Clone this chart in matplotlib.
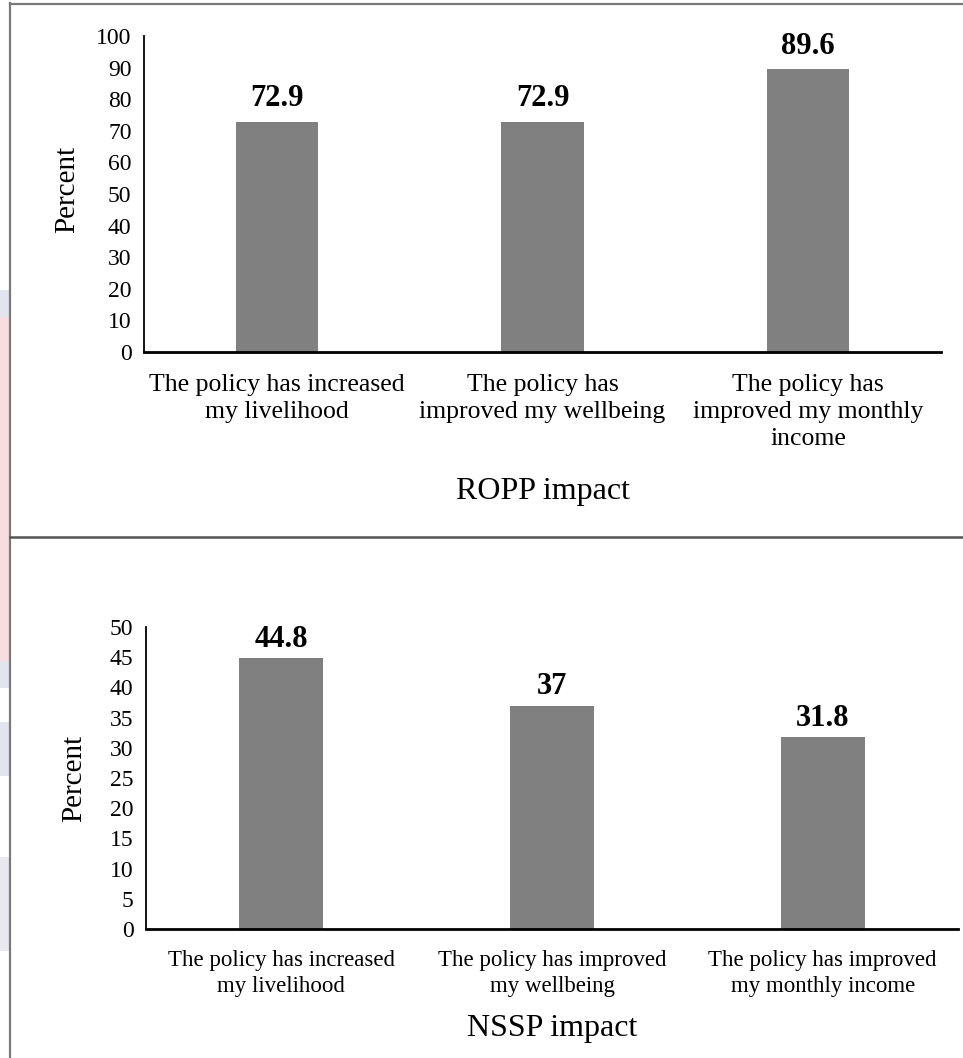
import matplotlib
matplotlib.use("Agg")
import matplotlib.pyplot as plt
from matplotlib.lines import Line2D
from matplotlib.patches import Rectangle

plt.rcParams['font.family'] = ['Liberation Serif', 'DejaVu Serif']

# ---- data ----
ropp_labels = ["The policy has increased\nmy livelihood",
               "The policy has\nimproved my wellbeing",
               "The policy has\nimproved my monthly\nincome"]
ropp_values = [72.9, 72.9, 89.6]
ropp_ticks = list(range(0, 101, 10))

nssp_labels = ["The policy has increased\nmy livelihood",
               "The policy has improved\nmy wellbeing",
               "The policy has improved\nmy monthly income"]
nssp_values = [44.8, 37, 31.8]
nssp_ticks = list(range(0, 51, 5))

W, H = 963, 1058
fig = plt.figure(figsize=(W / 100, H / 100), dpi=100)
fig.patch.set_facecolor('white')


def px_box(left, top, right, bottom):
    """Convert pixel edges (origin top-left) to a figure-fraction rect."""
    return [left / W, 1 - bottom / H, (right - left) / W, (bottom - top) / H]


# faint coloured strips along the left margin
for y0, y1, col in [(290, 317, '#e3e5ee'), (317, 661, '#f8dde0'),
                    (661, 688, '#e3e5ee'), (722, 776, '#e3e5ee'),
                    (857, 951, '#e8e9f0')]:
    fig.add_artist(Rectangle((0, 1 - y1 / H), 8.5 / W, (y1 - y0) / H,
                             transform=fig.transFigure, color=col, lw=0, zorder=0))

# panel frames
frame_kw = dict(transform=fig.transFigure, color='#7a7a7a', lw=1.6)
fig.add_artist(Line2D([9.5 / W, 9.5 / W], [1 - 3 / H, 0], **frame_kw))
fig.add_artist(Line2D([9.5 / W, 1], [1 - 3.5 / H, 1 - 3.5 / H], **frame_kw))
fig.add_artist(Line2D([9.5 / W, 1], [1 - 537 / H, 1 - 537 / H],
                      transform=fig.transFigure, color='#555555', lw=1.8))


def draw_panel(rect, labels, values, ticks, ymax, title, val_fmt,
               cat_size, cat_pad, title_xy, ylabel_xy, label_offset):
    ax = fig.add_axes(rect)
    x = list(range(len(values)))
    ax.bar(x, values, width=0.31, color='#808080', zorder=2)
    ax.set_xlim(-0.5, len(values) - 0.5)
    ax.set_ylim(0, ymax)
    ax.set_yticks(ticks)
    ax.set_xticks(x)
    ax.set_xticklabels(labels, fontsize=cat_size, linespacing=1.3)
    ax.tick_params(axis='x', length=0, pad=cat_pad)
    ax.tick_params(axis='y', length=0, pad=9, labelsize=17)
    for s in ('top', 'right'):
        ax.spines[s].set_visible(False)
    ax.spines['left'].set_linewidth(1.3)
    ax.spines['bottom'].set_linewidth(2.0)
    ax.set_facecolor('none')
    for xi, v in zip(x, values):
        ax.annotate(val_fmt(v), (xi, v), xytext=(0, label_offset),
                    textcoords='offset points', ha='center', va='bottom',
                    fontsize=22, fontweight='bold')
    ax.set_xlabel(title, fontsize=23)
    ax.xaxis.set_label_coords(*title_xy)
    ax.xaxis.label.set_va('center')
    ax.set_ylabel('Percent', fontsize=21)
    ax.yaxis.set_label_coords(*ylabel_xy)
    ax.yaxis.label.set_va('center')
    return ax


def fmt(v):
    return f"{v:g}"


draw_panel(px_box(144, 36, 941, 352), ropp_labels, ropp_values, ropp_ticks, 100,
           'ROPP impact', fmt, 18.5, 16, (0.5, -0.443), (-0.096, 0.513), 6)
draw_panel(px_box(146, 627, 958, 929), nssp_labels, nssp_values, nssp_ticks, 50,
           'NSSP impact', fmt, 16.5, 15, (0.5, -0.328), (-0.089, 0.5), 3)

fig.savefig('out.png', dpi=100, facecolor='white')
